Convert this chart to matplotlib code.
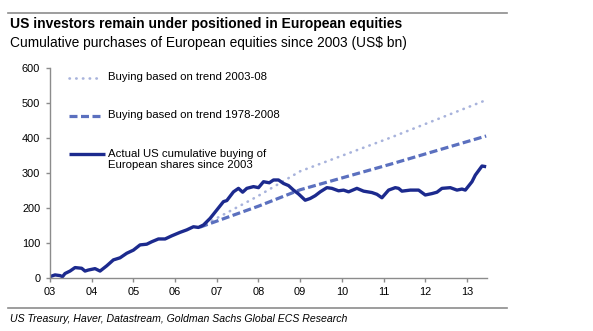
import matplotlib
matplotlib.use("Agg")
import matplotlib.pyplot as plt
from matplotlib.lines import Line2D

# ---- data ----
actual_x = [2003.0, 2003.12, 2003.24, 2003.3, 2003.36, 2003.48, 2003.6, 2003.76, 2003.84, 2003.92,
            2004.08, 2004.2, 2004.36, 2004.52, 2004.68, 2004.84, 2005.0, 2005.16, 2005.32, 2005.44,
            2005.6, 2005.76, 2005.92, 2006.12, 2006.28, 2006.44, 2006.56, 2006.68, 2006.84, 2007.0,
            2007.16, 2007.24, 2007.4, 2007.52, 2007.62, 2007.72, 2007.88, 2008.0, 2008.12, 2008.26,
            2008.36, 2008.48, 2008.6, 2008.72, 2008.84, 2008.96, 2009.12, 2009.24, 2009.36, 2009.48,
            2009.64, 2009.76, 2009.92, 2010.04, 2010.16, 2010.36, 2010.52, 2010.72, 2010.84, 2010.96,
            2011.12, 2011.28, 2011.36, 2011.44, 2011.64, 2011.84, 2012.0, 2012.16, 2012.28, 2012.4,
            2012.6, 2012.76, 2012.88, 2012.96, 2013.12, 2013.2, 2013.36, 2013.46]
actual_y = [3, 8, 6, 3, 12, 19, 29, 27, 19, 22,
            26, 19, 34, 51, 57, 70, 79, 94, 96, 103,
            111, 111, 120, 130, 137, 146, 144, 151, 170, 194,
            218, 221, 246, 256, 245, 256, 261, 258, 275, 272,
            280, 280, 270, 264, 251, 240, 222, 227, 235, 246,
            258, 256, 249, 251, 246, 256, 248, 244, 239, 229,
            251, 258, 256, 248, 251, 251, 237, 241, 245, 256,
            258, 251, 254, 251, 275, 294, 320, 318]

trend0308_x = [2006.6, 2007.96, 2009.0, 2011.16, 2013.46]
trend0308_y = [145, 232, 305, 401, 509]

trend7808_x = [2006.6, 2008.0, 2009.0, 2011.16, 2013.46]
trend7808_y = [145, 205, 252, 325, 406]

xticks = list(range(2003, 2014))
xlabels = ["03", "04", "05", "06", "07", "08", "09", "10", "11", "12", "13"]
yticks = [0, 100, 200, 300, 400, 500, 600]

labels = ["Buying based on trend 2003-08",
          "Buying based on trend 1978-2008",
          "Actual US cumulative buying of\nEuropean shares since 2003"]

c_actual = "#1c2a8e"
c_dash = "#5b70bf"
c_dot = "#a8b3dc"

plt.rcParams['font.family'] = ['Liberation Sans', 'DejaVu Sans']

fig = plt.figure(figsize=(5.93, 3.31), dpi=100)
ax = fig.add_axes([50/593, 1-277.7/331, (487-50)/593, (277.7-68.3)/331])

dot_style = dict(color=c_dot, lw=1.9, linestyle=(0, (0.15, 2.4)), dash_capstyle='round')
dash_style = dict(color=c_dash, lw=2.3, linestyle=(0, (2.5, 1.1)), dash_capstyle='butt')
solid_style = dict(color=c_actual, lw=2.4, solid_joinstyle='round', solid_capstyle='butt')

ax.plot(trend0308_x, trend0308_y, **dot_style)
ax.plot(trend7808_x, trend7808_y, **dash_style)
ax.plot(actual_x, actual_y, **solid_style)

ax.set_xlim(2003, 2013.48)
ax.set_ylim(0, 600)
ax.set_xticks(xticks)
ax.set_xticklabels(xlabels)
ax.set_yticks(yticks)
for s in ["top", "right"]:
    ax.spines[s].set_visible(False)
for s in ["left", "bottom"]:
    ax.spines[s].set_color("#8c8c8c")
    ax.spines[s].set_linewidth(1.0)
ax.tick_params(axis='both', colors="#8c8c8c", labelcolor="black", labelsize=7.9,
               length=3, width=1.0, direction='out')
ax.tick_params(axis='x', pad=4)
ax.tick_params(axis='y', pad=4)

# legend (manual, in axes coordinates)
def ax_y(py):
    return (277.7 - py) / (277.7 - 68.3)
def ax_x(px):
    return (px - 50) / (487 - 50)

styles = [dot_style, dash_style, solid_style]
ys = [77.7, 115.7, 154.3]
ends = [101, 101, 105]
for st, lab, py, xe in zip(styles, labels, ys, ends):
    ax.add_line(Line2D([ax_x(69), ax_x(xe)], [ax_y(py), ax_y(py)], transform=ax.transAxes,
                       clip_on=False, **st))
    ax.text(ax_x(108), ax_y(py - 5.5), lab, transform=ax.transAxes, fontsize=8.2,
            va='top', ha='left', linespacing=1.12)

# title / subtitle / source
fig.add_artist(Line2D([8/593, 507/593], [1-12.7/331, 1-12.7/331], color="#8c8c8c", lw=1.2))
fig.text(10/593, 1-24/331, "US investors remain under positioned in European equities",
         fontsize=10.0, fontweight='bold', va='center', ha='left')
fig.text(10/593, 1-43/331, "Cumulative purchases of European equities since 2003 (US$ bn)",
         fontsize=9.9, va='center', ha='left')
fig.add_artist(Line2D([8/593, 507/593], [1-308/331, 1-308/331], color="#8c8c8c", lw=1.2))
fig.text(10/593, 1-318.5/331, "US Treasury, Haver, Datastream, Goldman Sachs Global ECS Research",
         fontsize=7.6, style='italic', va='center', ha='left')

fig.savefig("out.png", dpi=100)
